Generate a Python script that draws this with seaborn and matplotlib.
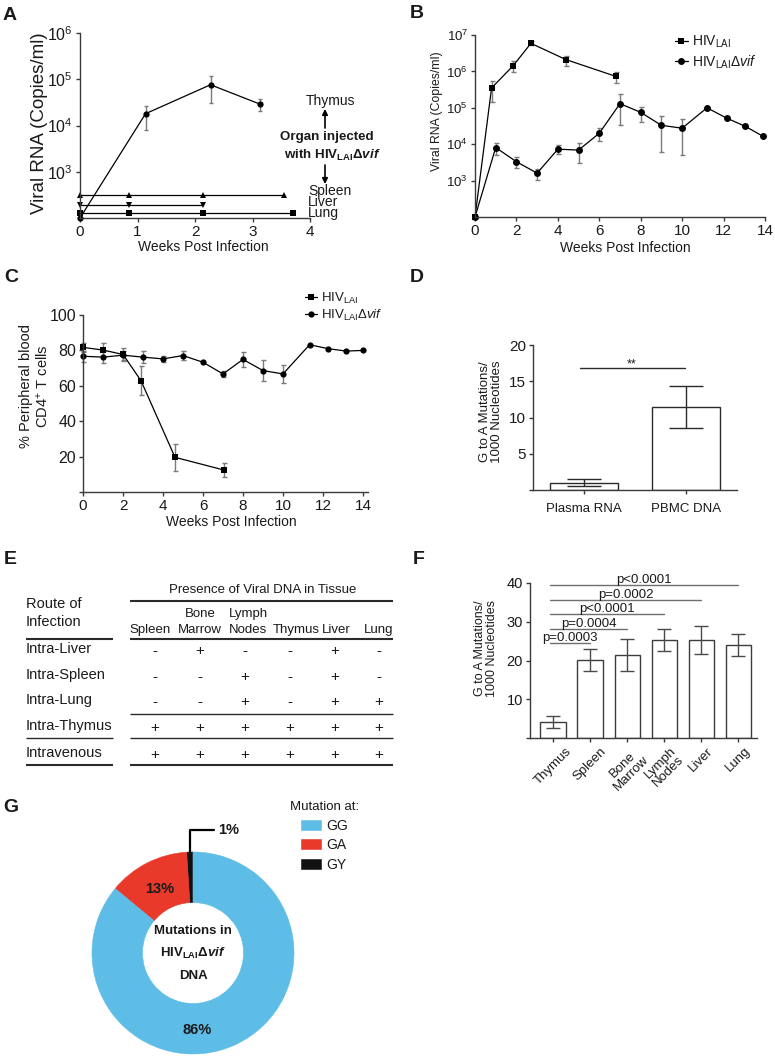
import numpy as np
import matplotlib
matplotlib.use("Agg")
import matplotlib.pyplot as plt
import seaborn as sns
from matplotlib.lines import Line2D
from matplotlib.ticker import NullLocator

W, H = 775, 1059
nan = np.nan

# A: viral RNA after injection into single organs (copies/ml)
thymus_weeks = [0, 1.14, 2.27, 3.13]
thymus_rna = [100, 1.8e4, 7.6e4, 2.9e4]
thymus_rna_lo = [nan, 8.0e3, 3.0e4, 2.1e4]
thymus_rna_hi = [nan, 2.7e4, 1.2e5, 3.7e4]
spleen_weeks = [0, 0.85, 2.14, 3.55]
spleen_rna = [310, 310, 310, 310]
liver_weeks = [0, 0.85, 2.14]
liver_rna = [195, 195, 195]
lung_weeks = [0, 0.85, 2.14, 3.7]
lung_rna = [128, 128, 128, 128]
injected_organs = ["Spleen", "Liver", "Lung"]

# B: plasma viral RNA
lai_weeks = [0, 0.8, 1.85, 2.7, 4.4, 6.8]
lai_rna = [100, 3.5e5, 1.45e6, 5.9e6, 2.1e6, 7.3e5]
lai_rna_lo = [nan, 1.4e5, 9.6e5, 5.2e6, 1.4e6, 4.8e5]
lai_rna_hi = [nan, 5.6e5, 1.95e6, 6.7e6, 2.6e6, 9.5e5]
vif_weeks = [0, 1, 2, 3, 4, 5, 6, 7, 8, 9, 10, 11.2, 12.15, 13.05, 13.9]
vif_rna = [100, 8.1e3, 3.3e3, 1.6e3, 7.3e3, 6.9e3, 2.0e4, 1.3e5, 7.5e4,
           3.3e4, 2.75e4, 1.0e5, 5.2e4, 3.1e4, 1.65e4]
vif_rna_lo = [nan, 5.0e3, 2.2e3, 1.05e3, 5.4e3, 3.1e3, 1.2e4, 3.3e4, 4.1e4,
              6.2e3, 5.2e3, nan, nan, nan, nan]
vif_rna_hi = [nan, 1.1e4, 4.5e3, 2.1e3, 9.7e3, 1.1e4, 2.8e4, 2.4e5, 1.05e5,
              5.8e4, 5.0e4, nan, nan, nan, nan]

# C: % CD4+ T cells in peripheral blood
lai_cd4_weeks = [0, 1, 2, 2.9, 4.6, 7.05]
lai_cd4 = [81.7, 80.2, 77.7, 62.9, 19.6, 12.4]
lai_cd4_err = [2.6, 3.8, 3.5, 8.3, 7.5, 4.0]
vif_cd4_weeks = [0, 1, 2, 3, 4, 5, 6, 7, 8, 9, 10, 11.33, 12.25, 13.17, 14]
vif_cd4 = [76.7, 76.2, 77.3, 76.2, 75.2, 77.1, 73.3, 66.7, 74.9, 68.6, 66.7,
           83.2, 81.0, 79.6, 80.0]
vif_cd4_err = [3.0, 3.3, 2.5, 3.3, 1.8, 2.3, nan, 1.8, 4.0, 6.0, 5.0,
               nan, nan, nan, nan]

# D: G to A mutations per 1000 nt
sample_types = ["Plasma RNA", "PBMC DNA"]
sample_mut = [1.0, 11.4]
sample_err = [0.5, 2.9]

# E: presence of viral DNA (1 = +, 0 = -)
organs = ["Spleen", "Bone\nMarrow", "Lymph\nNodes", "Thymus", "Liver", "Lung"]
routes = ["Intra-Liver", "Intra-Spleen", "Intra-Lung", "Intra-Thymus", "Intravenous"]
presence = [
    [0, 1, 0, 0, 1, 0],
    [0, 0, 1, 0, 1, 0],
    [0, 0, 1, 0, 1, 1],
    [1, 1, 1, 1, 1, 1],
    [1, 1, 1, 1, 1, 1],
]

# F: G to A mutations by tissue
tissues = ["Thymus", "Spleen", "Bone\nMarrow", "Lymph\nNodes", "Liver", "Lung"]
tissue_mut = [4.1, 20.2, 21.4, 25.3, 25.3, 24.0]
tissue_err = [1.5, 2.8, 4.2, 2.8, 3.5, 2.9]
comp_target = [1, 2, 3, 4, 5]
comp_pvalue = ["p=0.0003", "p=0.0004", "p<0.0001", "p=0.0002", "p<0.0001"]
comp_level = [24.5, 28.2, 32.0, 35.7, 39.4]

# G: mutation context
contexts = ["GY", "GA", "GG"]
context_pct = [1, 13, 86]
context_colors = ["#111111", "#E8392B", "#5EBDE7"]

sns.set_theme(style="ticks")
plt.rcParams["font.family"] = ["Liberation Sans", "DejaVu Sans"]
plt.rcParams["mathtext.fontset"] = "custom"
plt.rcParams["mathtext.rm"] = "Liberation Sans"
plt.rcParams["mathtext.it"] = "Liberation Sans:italic"
plt.rcParams["mathtext.bf"] = "Liberation Sans:bold"
plt.rcParams["mathtext.sf"] = "Liberation Sans:bold:italic"
plt.rcParams["text.color"] = "#1a1a1a"
plt.rcParams["axes.labelcolor"] = "#1a1a1a"

LAI = r"HIV$_{\mathrm{LAI}}$"
LAI_VIF = r"HIV$_{\mathrm{LAI}}$Δ$\mathit{vif}$"
LAI_VIF_BOLD = r"HIV$_{\mathbf{LAI}}$Δ$\mathsf{vif}$"

fig = plt.figure(figsize=(W / 100, H / 100), dpi=100)


def box(left, top, right, bottom):
    return [left / W, 1 - bottom / H, (right - left) / W, (bottom - top) / H]


def frame(ax, xsize=11, ysize=11):
    sns.despine(ax=ax)
    for side in ("left", "bottom"):
        ax.spines[side].set_color("#3a3a3a")
        ax.spines[side].set_linewidth(1.0)
    ax.tick_params(which="both", length=3, width=1, color="#3a3a3a", pad=2,
                   labelcolor="#1a1a1a")
    ax.tick_params(axis="x", labelsize=xsize)
    ax.tick_params(axis="y", labelsize=ysize)
    ax.set_facecolor("none")


def add_err(ax, x, y, lo, hi, color, cap, lw=1.0):
    x, y, lo, hi = (np.asarray(v, dtype=float) for v in (x, y, lo, hi))
    m = ~np.isnan(lo)
    ax.errorbar(x[m], y[m], yerr=[y[m] - lo[m], hi[m] - y[m]], fmt="none",
                ecolor=color, elinewidth=lw, capsize=cap, capthick=lw, clip_on=False)


def line(ax, x, y, marker, ms=4.5):
    sns.lineplot(x=x, y=y, marker=marker, markersize=ms, markeredgewidth=0,
                 color="black", linewidth=0.9, ax=ax)


# ---------------- A ----------------
axA = fig.add_axes(box(80, 33, 310, 218))
axA.set_yscale("log")
add_err(axA, thymus_weeks, thymus_rna, thymus_rna_lo, thymus_rna_hi, "#7a7a7a", 1.6)
line(axA, thymus_weeks, thymus_rna, "o", 4.5)
line(axA, spleen_weeks, spleen_rna, "^", 4)
line(axA, liver_weeks, liver_rna, "v", 4)
line(axA, lung_weeks, lung_rna, "s", 4)
axA.set_xlim(0, 4)
axA.set_ylim(100, 1e6)
axA.set_xticks(range(5))
axA.set_yticks([1e3, 1e4, 1e5, 1e6])
axA.yaxis.set_minor_locator(NullLocator())
frame(axA, 11, 11.5)
axA.set_xlabel("Weeks Post Infection", fontsize=10, va="center")
axA.set_ylabel("Viral RNA (Copies/ml)", fontsize=13.5, va="center")
axA.xaxis.set_label_coords(0.535, -0.157)
axA.yaxis.set_label_coords(-0.174, 0.51)

# ---------------- B ----------------
axB = fig.add_axes(box(475, 35, 765, 217))
axB.set_yscale("log")
add_err(axB, lai_weeks, lai_rna, lai_rna_lo, lai_rna_hi, "#7a7a7a", 1.8)
add_err(axB, vif_weeks, vif_rna, vif_rna_lo, vif_rna_hi, "#7a7a7a", 1.8)
line(axB, lai_weeks, lai_rna, "s", 5)
line(axB, vif_weeks, vif_rna, "o", 5)
axB.set_xlim(0, 14)
axB.set_ylim(100, 1e7)
axB.set_xticks(range(0, 15, 2))
axB.set_yticks([1e3, 1e4, 1e5, 1e6, 1e7])
axB.yaxis.set_minor_locator(NullLocator())
frame(axB, 11, 9.5)
axB.set_xlabel("Weeks Post Infection", fontsize=10, va="center")
axB.set_ylabel("Viral RNA (Copies/ml)", fontsize=8.8, va="center")
axB.xaxis.set_label_coords(0.52, -0.17)
axB.yaxis.set_label_coords(-0.131, 0.58)
hB = [Line2D([], [], color="black", lw=0.9, marker="s", ms=5, mew=0),
      Line2D([], [], color="black", lw=0.9, marker="o", ms=5, mew=0)]
axB.legend(hB, [LAI, LAI_VIF], loc="upper left", bbox_to_anchor=(675 / W, 1 - 34 / H),
           bbox_transform=fig.transFigure, frameon=False, fontsize=10,
           handlelength=0.9, handletextpad=0.3, labelspacing=0.2,
           borderaxespad=0, borderpad=0)

# ---------------- C ----------------
axC = fig.add_axes(box(83, 315, 368, 492))
lai_lo = np.array(lai_cd4) - np.array(lai_cd4_err)
lai_hi = np.array(lai_cd4) + np.array(lai_cd4_err)
vif_lo = np.array(vif_cd4) - np.array(vif_cd4_err)
vif_hi = np.array(vif_cd4) + np.array(vif_cd4_err)
add_err(axC, lai_cd4_weeks, lai_cd4, lai_lo, lai_hi, "#7a7a7a", 1.8)
add_err(axC, vif_cd4_weeks, vif_cd4, vif_lo, vif_hi, "#7a7a7a", 1.8)
line(axC, lai_cd4_weeks, lai_cd4, "s", 4.5)
line(axC, vif_cd4_weeks, vif_cd4, "o", 4.5)
axC.set_xlim(0, 14.25)
axC.set_ylim(0, 100)
axC.set_xticks(range(0, 15, 2))
axC.set_yticks(range(0, 101, 20))
axC.set_yticklabels([""] + [str(v) for v in range(20, 101, 20)])
frame(axC, 11, 11.5)
axC.set_xlabel("Weeks Post Infection", fontsize=10, va="center")
axC.set_ylabel("% Peripheral blood\nCD4$^{+}$ T cells", fontsize=10.5, va="center",
               linespacing=1.1)
axC.xaxis.set_label_coords(0.52, -0.17)
axC.yaxis.set_label_coords(-0.168, 0.60)
hC = [Line2D([], [], color="black", lw=0.9, marker="s", ms=4.5, mew=0),
      Line2D([], [], color="black", lw=0.9, marker="o", ms=4.5, mew=0)]
axC.legend(hC, [LAI, LAI_VIF], loc="upper left", bbox_to_anchor=(305 / W, 1 - 291 / H),
           bbox_transform=fig.transFigure, frameon=False, fontsize=9.5,
           handlelength=0.9, handletextpad=0.3, labelspacing=0.1,
           borderaxespad=0, borderpad=0)

for ax in (axA, axB, axC):
    for ln in ax.lines:
        ln.set_clip_on(False)

# ---------------- D ----------------
axD = fig.add_axes(box(533, 345, 737, 490))
sns.barplot(x=sample_types, y=sample_mut, color="white", edgecolor="#2a2a2a",
            linewidth=1, width=0.66, errorbar=None, ax=axD)
axD.errorbar([0, 1], sample_mut, yerr=sample_err, fmt="none", ecolor="#2a2a2a",
             elinewidth=1, capsize=12, capthick=1)
axD.plot([-0.04, 0.99], [16.8, 16.8], color="#2a2a2a", lw=1)
axD.text(0.47, 17.3, "**", ha="center", va="center", fontsize=9)
axD.set_xlim(-0.5, 1.5)
axD.set_ylim(0, 20)
axD.set_yticks(range(0, 21, 5))
axD.set_yticklabels(["", "5", "10", "15", "20"])
frame(axD, 9.5, 11)
axD.tick_params(axis="x", pad=6)
axD.set_ylabel("G to A Mutations/\n1000 Nucleotides", fontsize=9.5, va="center",
               linespacing=1.05)
axD.yaxis.set_label_coords(-0.205, 0.54)

# ---------------- F ----------------
axF = fig.add_axes(box(530, 583, 757, 738))
sns.barplot(x=tissues, y=tissue_mut, color="white", edgecolor="#3c3c3c",
            linewidth=1, width=0.68, errorbar=None, ax=axF)
axF.errorbar(range(len(tissues)), tissue_mut, yerr=tissue_err, fmt="none",
             ecolor="#4a4a4a", elinewidth=1, capsize=5, capthick=1)
for tgt, txt, lvl in zip(comp_target, comp_pvalue, comp_level):
    axF.plot([-0.08, tgt], [lvl, lvl], color="#6e6e6e", lw=1, clip_on=False)
    axF.text((tgt - 0.08) / 2, lvl - 0.3, txt, ha="center", va="bottom", fontsize=9.5)
axF.set_xlim(-0.62, 5.5)
axF.set_ylim(0, 40)
axF.set_yticks(range(0, 41, 10))
axF.set_yticklabels(["", "10", "20", "30", "40"])
frame(axF, 9.5, 10.5)
plt.setp(axF.get_xticklabels(), rotation=45, ha="center", multialignment="center",
         linespacing=1.0)
axF.set_ylabel("G to A Mutations/\n1000 Nucleotides", fontsize=9, va="center",
               linespacing=1.05)
axF.yaxis.set_label_coords(-0.195, 0.58)

# ---------------- G ----------------
axG = fig.add_axes(box(92, 852, 294, 1054))
wedges, _ = axG.pie(context_pct, colors=context_colors, startangle=90, counterclock=True,
                    radius=1, wedgeprops=dict(width=0.5, linewidth=0.4))
for w in wedges:
    w.set_edgecolor(w.get_facecolor())
axG.set_xlim(-1, 1)
axG.set_ylim(-1, 1)
axG.set_aspect("equal")
axG.text(-0.33, 0.63, f"{context_pct[1]}%", ha="center", va="center",
         fontsize=10.5, fontweight="bold")
axG.text(0.04, -0.76, f"{context_pct[2]}%", ha="center", va="center",
         fontsize=10.5, fontweight="bold")
mid = np.deg2rad(90 + context_pct[0] * 3.6 / 2)
axG.annotate(f"{context_pct[0]}%", xy=(np.cos(mid), np.sin(mid)), xytext=(0.25, 1.22),
             ha="left", va="center", fontsize=10.5, fontweight="bold",
             annotation_clip=False,
             arrowprops=dict(arrowstyle="-", lw=1.6, color="black", shrinkA=1, shrinkB=0,
                             connectionstyle="angle,angleA=0,angleB=90,rad=0"))
axG.text(0, 0.22, "Mutations in", ha="center", va="center", fontsize=9.5,
         fontweight="bold")
axG.text(0, 0.0, LAI_VIF_BOLD, ha="center", va="center", fontsize=9.5, fontweight="bold")
axG.text(0, -0.23, "DNA", ha="center", va="center", fontsize=9.5, fontweight="bold")
axG.legend(wedges[::-1], contexts[::-1], title="Mutation at:", loc="upper left",
           bbox_to_anchor=(290 / W, 1 - 801 / H), bbox_transform=fig.transFigure,
           frameon=False, fontsize=10, title_fontsize=9.5, handlelength=1.4,
           handleheight=0.75, handletextpad=0.4, labelspacing=0.4,
           borderaxespad=0, borderpad=0)

# ---------------- overlay: panel letters, notes, table E ----------------
ov = fig.add_axes([0, 0, 1, 1])
ov.set_xlim(0, W)
ov.set_ylim(H, 0)
ov.axis("off")

for letter, (lx, ly) in zip("ABCDEFG", [(10, 15), (417, 13), (11, 278), (417, 278),
                                         (10, 560), (419, 560), (11, 807)]):
    ov.text(lx, ly, letter, ha="center", va="center", fontsize=14, fontweight="bold")

# notes on the right of A
ov.text(330, 101, "Thymus", ha="center", va="center", fontsize=10)
ov.annotate("", xy=(325, 109), xytext=(325, 128),
            arrowprops=dict(arrowstyle="-|>", lw=1.2, color="black", mutation_scale=8,
                            shrinkA=0, shrinkB=0))
ov.text(327, 137, "Organ injected", ha="center", va="center", fontsize=9.6,
        fontweight="bold")
ov.text(332, 155, "with " + LAI_VIF_BOLD, ha="center", va="center", fontsize=9.6,
        fontweight="bold")
ov.annotate("", xy=(325, 184), xytext=(325, 165),
            arrowprops=dict(arrowstyle="-|>", lw=1.2, color="black", mutation_scale=8,
                            shrinkA=0, shrinkB=0))
ov.text(308, 202, "\n".join(injected_organs), ha="left", va="center", fontsize=10,
        linespacing=0.72)

# table E
col_head_x = [150, 200, 248, 296, 336, 379]
col_sym_x = [155, 200, 245, 290, 335, 379]
row_y = [649, 675, 700, 726, 753]
ov.text(263, 590, "Presence of Viral DNA in Tissue", ha="center", va="center", fontsize=9.5)
ov.text(26, 604, "Route of", ha="left", va="center", fontsize=10.5)
ov.text(26, 622, "Infection", ha="left", va="center", fontsize=10.5)
for name, cx in zip(organs, col_head_x):
    parts = name.split("\n")
    top, bottom = (parts[0], parts[1]) if len(parts) == 2 else ("", parts[0])
    ov.text(cx, 614, top, ha="center", va="center", fontsize=9.5)
    ov.text(cx, 630, bottom, ha="center", va="center", fontsize=9.5)
for route, ry, flags in zip(routes, row_y, presence):
    ov.text(26, ry, route, ha="left", va="center", fontsize=10.5)
    for cx, f in zip(col_sym_x, flags):
        ov.text(cx, ry + 2, "+" if f else "-", ha="center", va="center", fontsize=11)
rule = dict(color="#2a2a2a", solid_capstyle="butt")
ov.plot([130, 393], [601, 601], lw=1.5, **rule)
ov.plot([26, 113], [639, 639], lw=1.5, **rule)
ov.plot([130, 393], [639, 639], lw=1.5, **rule)
ov.plot([130, 393], [714, 714], lw=1.0, **rule)
ov.plot([26, 113], [738, 738], lw=1.0, **rule)
ov.plot([130, 393], [738, 738], lw=1.0, **rule)
ov.plot([26, 113], [765, 765], lw=1.5, **rule)
ov.plot([130, 393], [765, 765], lw=1.5, **rule)

fig.savefig("out.png", dpi=100)
